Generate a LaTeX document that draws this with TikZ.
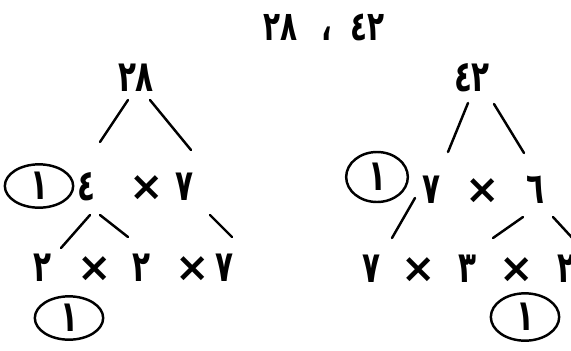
\documentclass[tikz,border=0pt]{standalone}
\usepackage{fontspec}
\newfontfamily\arabicfont[Script=Arabic,FakeStretch=0.68]{DejaVu Sans}
\newfontfamily\signfont{DejaVu Sans}
\TeXXeTstate=1
\usepackage{tikz}
\usetikzlibrary{shapes.geometric,calc}

\begin{document}
\begin{tikzpicture}[x=0.03cm,y=-0.03cm,
  num/.style={inner sep=0pt,font=\arabicfont\bfseries\fontsize{37}{40}\selectfont},
  times/.style={inner sep=0pt,font=\signfont\bfseries\fontsize{35}{37}\selectfont},
  ring/.style={num,draw,ellipse,line width=2.1pt,minimum width=2.05cm,minimum height=1.3cm},
  branch/.style={line width=2.1pt,line cap=round}]
\useasboundingbox (0,0) rectangle (571,350);
% title
\node[num,font=\arabicfont\bfseries\fontsize{35}{38}\selectfont] (title) at (324,27)
  {\beginR ٤٢\hspace{16pt}،\hspace{20pt}٢٨\endR};
% left tree: 28
\node[num] (t28) at (136,78) {٢٨};
\node[ring] (lone) at (39,186) {١};
\node[num] (f4) at (86,187) {٤};
\node[times] (lx1) at (147,188) {×};
\node[num] (f7) at (184,187) {٧};
\node[num] (a2) at (42,268) {٢};
\node[times] (lx2) at (95,269) {×};
\node[num] (b2) at (141,268) {٢};
\node[times] (lx3) at (193,269) {×};
\node[num] (c7) at (224,268) {٧};
\node[ring] (lbot) at (69,318) {١};
\draw[branch] ([shift={(-8,22)}]t28.center) -- ([shift={(14,-45)}]f4.center);
\draw[branch] ([shift={(14,22)}]t28.center) -- ([shift={(7,-37)}]f7.center);
\draw[branch] ([shift={(4,28)}]f4.center) -- ([shift={(19,-20)}]a2.center);
\draw[branch] ([shift={(14,28)}]f4.center) -- ([shift={(-13,-31)}]b2.center);
\draw[branch] ([shift={(26,28)}]f7.center) -- ([shift={(8,-31)}]c7.center);
% right tree: 42
\node[num] (t42) at (472,78) {٤٢};
\node[ring,minimum width=1.85cm,minimum height=1.5cm] (rone) at (377,177) {١};
\node[num] (s7) at (431,190) {٧};
\node[times] (rx1) at (483,191) {×};
\node[num] (s6) at (535,190) {٦};
\node[num] (d7) at (371,269) {٧};
\node[times] (rx2) at (419,270) {×};
\node[num] (e3) at (467,269) {٣};
\node[times] (rx3) at (517,270) {×};
\node[num] (f2) at (566,269) {٢};
\node[ring,minimum height=1.42cm] (rbot) at (525,317) {١};
\draw[branch] ([shift={(-4,25)}]t42.center) -- ([shift={(17,-38)}]s7.center);
\draw[branch] ([shift={(22,26)}]t42.center) -- ([shift={(-11,-37)}]s6.center);
\draw[branch] ([shift={(-16,8)}]s7.center) -- ([shift={(21,-31)}]d7.center);
\draw[branch] ([shift={(-12,27)}]s6.center) -- ([shift={(26,-31)}]e3.center);
\draw[branch] ([shift={(18,27)}]s6.center) -- ([shift={(10,-27)}]f2.center);
\end{tikzpicture}
\end{document}
